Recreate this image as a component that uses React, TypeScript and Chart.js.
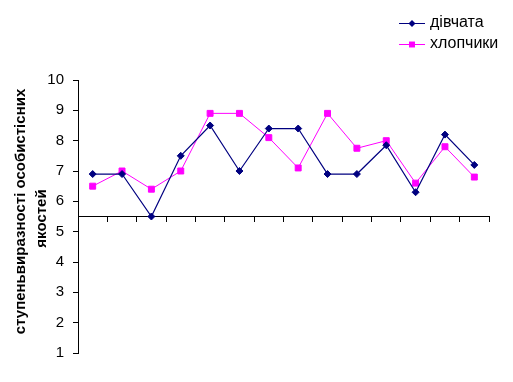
import React, { useEffect, useRef } from "react";
import { Chart, registerables } from "chart.js";

Chart.register(...registerables);

const categories = ["1", "2", "3", "4", "5", "6", "7", "8", "9", "10", "11", "12", "13", "14"];
const girls = [6.9, 6.9, 5.5, 7.5, 8.5, 7.0, 8.4, 8.4, 6.9, 6.9, 7.85, 6.3, 8.2, 7.2];
const boys = [6.5, 7.0, 6.4, 7.0, 8.9, 8.9, 8.1, 7.1, 8.9, 7.75, 8.0, 6.6, 7.8, 6.8];
const seriesNames = ["дівчата", "хлопчики"];
const yTitleLines = ["ступеньвиразності особистісних", "якостей"];
const yMin = 1;
const yMax = 10;
const xCross = 5.5;

const FONT = '"Liberation Sans", Arial, sans-serif';
const NAVY = "#000080";
const MAGENTA = "#FF00FF";

const overlayPlugin = {
  id: "overlay",
  afterDraw(chart: any) {
    const ctx = chart.ctx;
    const area = chart.chartArea;
    ctx.save();
    // y-axis title
    ctx.fillStyle = "#000";
    ctx.font = "bold 15px " + FONT;
    ctx.textAlign = "center";
    ctx.textBaseline = "middle";
    const mid = (area.top + area.bottom) / 2;
    const xs = [21, 42];
    const cys = [mid - 5, mid + 2];
    yTitleLines.forEach((t, i) => {
      ctx.save();
      ctx.translate(xs[i], cys[i]);
      ctx.rotate(-Math.PI / 2);
      ctx.fillText(t, 0, 0);
      ctx.restore();
    });
    // legend
    const items = [
      { name: seriesNames[0], color: NAVY, style: "rectRot", r: 3.5 },
      { name: seriesNames[1], color: MAGENTA, style: "rect", r: 4.2 },
    ];
    const ys = [23, 44];
    items.forEach((it, i) => {
      const y = ys[i];
      ctx.strokeStyle = it.color;
      ctx.lineWidth = 1;
      ctx.beginPath();
      ctx.moveTo(399, y + 0.5);
      ctx.lineTo(425, y + 0.5);
      ctx.stroke();
      ctx.fillStyle = it.color;
      ctx.beginPath();
      if (it.style === "rect") {
        const s = it.r * Math.SQRT1_2;
        ctx.rect(412 - s, y + 0.5 - s, 2 * s, 2 * s);
      } else {
        ctx.moveTo(412 - it.r, y + 0.5);
        ctx.lineTo(412, y + 0.5 - it.r);
        ctx.lineTo(412 + it.r, y + 0.5);
        ctx.lineTo(412, y + 0.5 + it.r);
        ctx.closePath();
      }
      ctx.fill();
      ctx.fillStyle = "#000";
      ctx.font = "16px " + FONT;
      ctx.textAlign = "left";
      ctx.textBaseline = "middle";
      ctx.fillText(it.name, 430, y);
    });
    ctx.restore();
  },
};

export default function App() {
  const ref = useRef<HTMLCanvasElement | null>(null);
  useEffect(() => {
    if (!ref.current) return;
    const chart = new Chart(ref.current, {
      type: "line",
      data: {
        labels: categories,
        datasets: [
          {
            label: seriesNames[0],
            data: girls,
            borderColor: NAVY,
            backgroundColor: NAVY,
            borderWidth: 1.2,
            pointStyle: "rectRot",
            pointRadius: 3.5,
            pointBorderWidth: 1,
            tension: 0,
          },
          {
            label: seriesNames[1],
            data: boys,
            borderColor: MAGENTA,
            backgroundColor: MAGENTA,
            borderWidth: 1,
            pointStyle: "rect",
            pointRadius: 4.2,
            pointBorderWidth: 1,
            tension: 0,
          },
        ],
      },
      options: {
        responsive: false,
        animation: false,
        layout: { padding: { top: 80, bottom: 29, right: 24, left: 0 } },
        plugins: {
          legend: { display: false },
          tooltip: { enabled: false },
          title: { display: false },
        },
        scales: {
          x: {
            type: "category",
            position: { y: xCross } as any,
            offset: true,
            grid: {
              offset: true,
              drawOnChartArea: false,
              drawTicks: true,
              tickLength: 5,
              color: "#000",
            },
            border: { display: true, color: "#000", width: 1 },
            ticks: { display: false },
          },
          y: {
            min: yMin,
            max: yMax,
            afterFit: (s: any) => {
              s.width = 78;
            },
            ticks: {
              stepSize: 1,
              color: "#000",
              padding: 9,
              font: { family: FONT, size: 15 },
            },
            grid: {
              drawOnChartArea: false,
              drawTicks: true,
              tickLength: 5,
              color: "#000",
            },
            border: { display: true, color: "#000", width: 1 },
          },
        },
      },
      plugins: [overlayPlugin],
    });
    return () => chart.destroy();
  }, []);
  return (
    <div style={{ position: "fixed", left: 0, top: 0, width: 513, height: 382, background: "#fff" }}>
      <canvas ref={ref} width={513} height={382} style={{ display: "block" }} />
    </div>
  );
}
